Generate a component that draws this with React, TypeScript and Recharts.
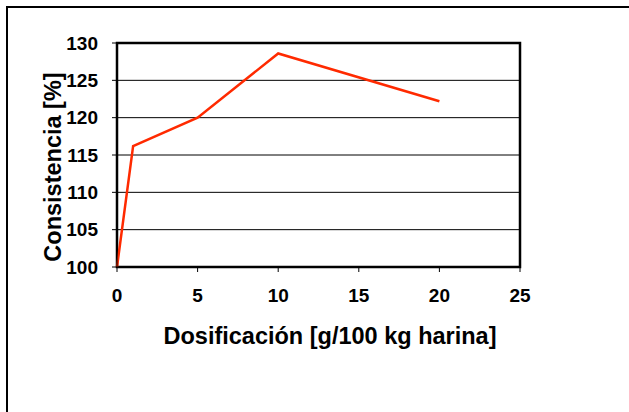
import { LineChart, Line, XAxis, YAxis, CartesianGrid, ReferenceArea } from 'recharts'

const dosages = [0, 1, 5, 10, 20]
const consistency = [100, 116.2, 120, 128.6, 122.2]
const xTicks = [0, 5, 10, 15, 20, 25]
const yTicks = [100, 105, 110, 115, 120, 125, 130]

const data = dosages.map((d, i) => ({ dosis: d, consistencia: consistency[i] }))

const font = '"Liberation Sans", Arial, sans-serif'
const tickStyle = { fill: '#000', fontSize: 19, fontWeight: 700, fontFamily: font }

const YTitle = () => (
  <text
    x={53}
    y={167}
    transform="rotate(-90 53 167)"
    textAnchor="middle"
    dominantBaseline="central"
    fontSize={23.5}
    fontWeight={700}
    fontFamily={font}
    fill="#000"
  >
    Consistencia [%]
  </text>
)

const XTitle = () => (
  <text
    x={330}
    y={336}
    textAnchor="middle"
    dominantBaseline="central"
    fontSize={23.5}
    fontWeight={700}
    fontFamily={font}
    fill="#000"
  >
    Dosificación [g/100 kg harina]
  </text>
)

const App = () => {
  return (
    <div style={{ position: 'absolute', left: 0, top: 0, width: 629, height: 412, background: '#fff' }}>
      <div
        style={{
          position: 'absolute',
          left: 6,
          top: 6,
          right: 0,
          bottom: 0,
          borderTop: '2px solid #000',
          borderLeft: '2px solid #000'
        }}
      />
      <LineChart
        width={629}
        height={412}
        data={data}
        margin={{ top: 43, right: 109, bottom: 115, left: 0 }}
        style={{ position: 'absolute', left: 0, top: 0 }}
      >
        <CartesianGrid horizontal vertical={false} stroke="#000" strokeWidth={1} />
        <XAxis
          dataKey="dosis"
          type="number"
          domain={[0, 25]}
          ticks={xTicks}
          height={30}
          tickSize={5}
          tickMargin={17}
          tick={tickStyle}
          axisLine={{ stroke: '#000' }}
          tickLine={{ stroke: '#000' }}
          label={<XTitle />}
        />
        <YAxis
          type="number"
          domain={[100, 130]}
          ticks={yTicks}
          width={117}
          tickSize={5}
          tickMargin={14}
          tick={tickStyle}
          axisLine={{ stroke: '#000' }}
          tickLine={{ stroke: '#000' }}
          label={<YTitle />}
        />
        <ReferenceArea x1={0} x2={25} y1={100} y2={130} fill="none" stroke="#000" strokeWidth={2.5} />
        <Line
          dataKey="consistencia"
          stroke="#ff2a00"
          strokeWidth={2.5}
          dot={false}
          isAnimationActive={false}
        />
      </LineChart>
    </div>
  )
}

export default App
